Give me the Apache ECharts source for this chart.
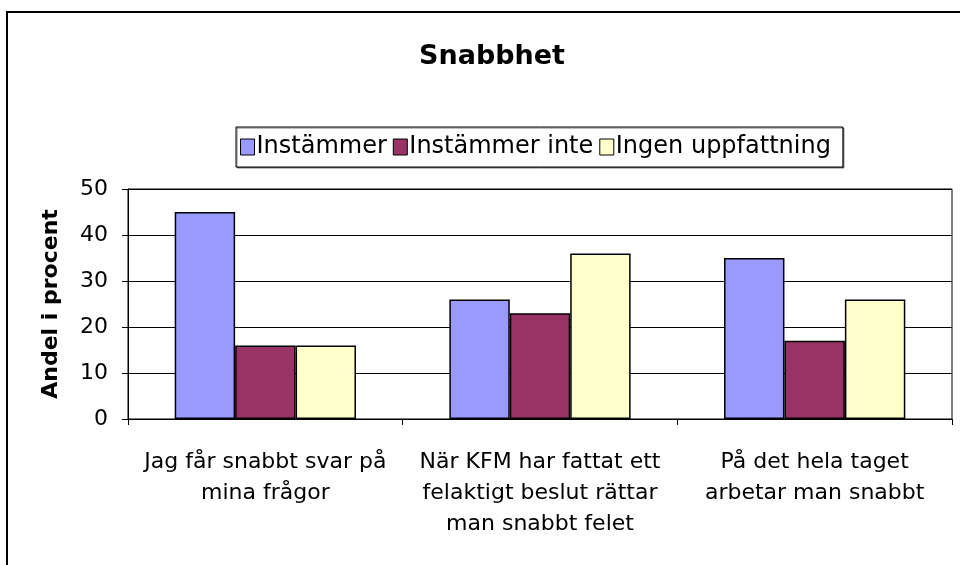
<!DOCTYPE html>
<html>
<head>
<meta charset="utf-8">
<title>Snabbhet</title>
<script src="https://cdn.jsdelivr.net/npm/echarts@6/dist/echarts.min.js"></script>
<style>
  html, body {margin: 0; padding: 0; background: #fff;}
  #chart {width: 960px; height: 565px;}
</style>
</head>
<body>
<div id="chart"></div>
<script>
// categories (wrapped like the original labels)
const categories = [
  'Jag får snabbt svar på\nmina frågor',
  'När KFM har fattat ett\nfelaktigt beslut rättar\nman snabbt felet',
  'På det hela taget\narbetar man snabbt'
];
const seriesNames = ['Instämmer', 'Instämmer inte', 'Ingen uppfattning'];
const instammer = [45, 26, 35];
const instammerInte = [16, 23, 17];
const ingenUppfattning = [16, 36, 26];
const yTicks = [0, 10, 20, 30, 40, 50];

const colors = ['#9999FF', '#993366', '#FFFFCC'];
const font = 'DejaVu Sans';

const chart = echarts.init(document.getElementById('chart'), null, {renderer: 'canvas'});

const barStyle = (i) => ({
  color: colors[i],
  borderColor: '#000',
  borderWidth: 1.5
});

const option = {
  backgroundColor: '#fff',
  animation: false,
  title: {
    text: 'Snabbhet',
    left: 487,
    top: 38,
    textAlign: 'center',
    textStyle: {fontFamily: font, fontWeight: 'bold', fontSize: 27, color: '#000'}
  },
  legend: {
    data: seriesNames,
    left: 236,
    top: 127,
    icon: 'rect',
    itemWidth: 14,
    itemHeight: 16,
    itemGap: 6,
    padding: [8, 12, 8, 4],
    backgroundColor: '#fff',
    borderColor: '#000',
    borderWidth: 1,
    shadowColor: 'rgba(0,0,0,0.5)',
    shadowOffsetX: 1,
    shadowOffsetY: 1,
    textStyle: {fontFamily: font, fontSize: 24, color: '#000', padding: [0, 0, 0, -3]},
    itemStyle: {borderColor: '#000', borderWidth: 1}
  },
  grid: {
    left: 128,
    right: 8,
    top: 189,
    bottom: 146,
    show: true,
    borderColor: '#000',
    borderWidth: 1
  },
  xAxis: {
    type: 'category',
    data: categories,
    axisLine: {show: true, lineStyle: {color: '#000', width: 1}},
    axisTick: {show: true, length: 6, lineStyle: {color: '#000'}},
    axisLabel: {
      fontFamily: font,
      fontSize: 22,
      color: '#000',
      lineHeight: 31,
      margin: 28,
      interval: 0,
      align: 'center'
    }
  },
  yAxis: {
    type: 'value',
    min: yTicks[0],
    max: yTicks[yTicks.length - 1],
    interval: 10,
    name: 'Andel i procent',
    nameLocation: 'middle',
    nameGap: 66,
    nameRotate: 90,
    nameTextStyle: {fontFamily: font, fontWeight: 'bold', fontSize: 22, color: '#000'},
    axisLine: {show: true, lineStyle: {color: '#000', width: 1}},
    axisTick: {show: true, length: 6, lineStyle: {color: '#000'}},
    axisLabel: {fontFamily: font, fontSize: 22, color: '#000', margin: 20},
    splitLine: {show: true, lineStyle: {color: '#000', width: 1}}
  },
  series: [
    {name: seriesNames[0], type: 'bar', data: instammer, itemStyle: barStyle(0), barGap: '0%', barCategoryGap: '34%'},
    {name: seriesNames[1], type: 'bar', data: instammerInte, itemStyle: barStyle(1), barGap: '0%', barCategoryGap: '34%'},
    {name: seriesNames[2], type: 'bar', data: ingenUppfattning, itemStyle: barStyle(2), barGap: '0%', barCategoryGap: '34%'}
  ],
  graphic: [{
    type: 'rect',
    shape: {x: 7, y: 12, width: 1000, height: 600},
    style: {fill: 'none', stroke: '#000', lineWidth: 2},
    silent: true,
    z: -1
  }]
};

chart.setOption(option);
</script>
</body>
</html>
